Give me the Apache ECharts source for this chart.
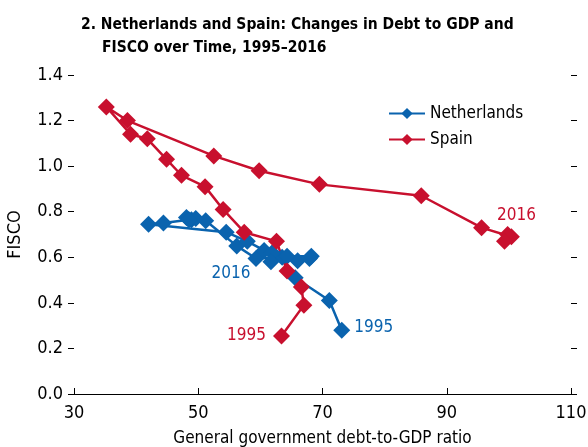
<!DOCTYPE html>
<html>
<head>
<meta charset="utf-8">
<script src="https://cdn.jsdelivr.net/npm/echarts@6/dist/echarts.min.js"></script>
<style>html,body{margin:0;padding:0;background:#fff}#c{width:588px;height:447px}</style>
</head>
<body>
<div id="c"></div>
<script>
var years = [1995,1996,1997,1998,1999,2000,2001,2002,2003,2004,2005,2006,2007,2008,2009,2010,2011,2012,2013,2014,2015,2016];
var nlDebt  = [73.1,71.1,65.6,63.5,59.3,56.2,51.2,48.9,48.1,49.6,48.5,44.4,42.0,54.5,57.9,60.6,61.9,66.0,67.9,68.2,64.3,61.7];
var nlFisco = [0.28,0.41,0.51,0.60,0.595,0.65,0.76,0.765,0.775,0.77,0.765,0.75,0.745,0.71,0.67,0.63,0.62,0.585,0.595,0.605,0.605,0.58];
var esDebt  = [63.4,67.0,66.6,64.3,62.6,57.4,54.0,51.1,47.3,44.9,41.8,39.1,35.2,38.6,52.5,59.8,69.5,85.9,95.6,100.4,99.8,99.3];
var esFisco = [0.255,0.39,0.47,0.54,0.67,0.71,0.81,0.91,0.96,1.03,1.12,1.14,1.26,1.20,1.045,0.98,0.92,0.87,0.73,0.69,0.70,0.67];
var xTicks = [30,50,70,90,110];
var yTicks = [0.0,0.2,0.4,0.6,0.8,1.0,1.2,1.4];

var BLUE = '#0A63AE', RED = '#C8102E';
var FONT = '"Liberation Sans Narrow","DejaVu Sans Condensed","Liberation Sans",sans-serif';

function build(xs, ys, labels) {
  return xs.map(function (x, i) {
    var d = { value: [x, ys[i]] };
    var yr = years[i];
    if (labels[yr]) d.label = labels[yr];
    return d;
  });
}

var nlLabels = {
  1995: { show: true, formatter: '1995', position: 'right', distance: 4, offset: [0, -3], color: BLUE, fontSize: 17, fontFamily: FONT },
  2016: { show: true, formatter: '2016', position: 'left', distance: 12, offset: [0, 12], color: BLUE, fontSize: 17, fontFamily: FONT }
};
var esLabels = {
  1995: { show: true, formatter: '1995', position: 'left', distance: 7, offset: [0, 0], color: RED, fontSize: 17, fontFamily: FONT },
  2016: { show: true, formatter: '2016', position: 'top', distance: 6, offset: [12, -3], color: RED, fontSize: 17, fontFamily: FONT }
};

var chart = echarts.init(document.getElementById('c'), null, { renderer: 'canvas' });
chart.setOption({
  animation: false,
  backgroundColor: '#fff',
  title: [
    { text: '2. Netherlands and Spain: Changes in Debt to GDP and', left: 76, top: 12,
      textStyle: { fontFamily: FONT, fontWeight: 'bold', fontSize: 15.5, color: '#000' } },
    { text: 'FISCO over Time, 1995–2016', left: 97, top: 35,
      textStyle: { fontFamily: FONT, fontWeight: 'bold', fontSize: 15.5, color: '#000' } }
  ],
  legend: {
    orient: 'vertical', left: 383, top: 100, itemWidth: 36, itemHeight: 14, itemGap: 9,
    textStyle: { fontFamily: FONT, fontSize: 17, color: '#000' },
    data: ['Netherlands', 'Spain']
  },
  grid: { left: 74, right: 17, top: 75, bottom: 53, containLabel: false, outerBoundsMode: 'none' },
  xAxis: {
    type: 'value', min: 30, max: 110, interval: 20,
    name: 'General government debt-to-GDP ratio', nameLocation: 'middle', nameGap: 36,
    nameTextStyle: { fontFamily: FONT, fontSize: 17, color: '#000' },
    axisLine: { show: true, lineStyle: { color: '#000', width: 1.2 } },
    axisTick: { show: true, inside: true, length: 6, lineStyle: { color: '#000' } },
    axisLabel: { fontFamily: FONT, fontSize: 18, color: '#000', margin: 10,
      formatter: function (v) { return xTicks.indexOf(v) >= 0 ? String(v) : ''; } },
    splitLine: { show: false }
  },
  yAxis: [
    { type: 'value', min: 0, max: 1.4, interval: 0.2,
      name: 'FISCO', nameLocation: 'middle', nameGap: 50,
      nameTextStyle: { fontFamily: FONT, fontSize: 18, color: '#000' },
      axisLine: { show: false },
      axisTick: { show: true, length: 6, lineStyle: { color: '#000' } },
      axisLabel: { fontFamily: FONT, fontSize: 18, color: '#000', margin: 11,
        formatter: function (v) { return yTicks[Math.round(v / 0.2)].toFixed(1); } },
      splitLine: { show: false } },
    { type: 'value', min: 0, max: 1.4, interval: 0.2, position: 'right',
      axisLine: { show: false },
      axisTick: { show: true, length: 6, lineStyle: { color: '#000' } },
      axisLabel: { show: false }, splitLine: { show: false } }
  ],
  series: [
    { name: 'Netherlands', type: 'line', symbol: 'diamond', symbolSize: 17,
      itemStyle: { color: BLUE }, lineStyle: { color: BLUE, width: 2.5 },
      data: build(nlDebt, nlFisco, nlLabels) },
    { name: 'Spain', type: 'line', symbol: 'diamond', symbolSize: 17,
      itemStyle: { color: RED }, lineStyle: { color: RED, width: 2.5 },
      data: build(esDebt, esFisco, esLabels) }
  ]
});
</script>
</body>
</html>
